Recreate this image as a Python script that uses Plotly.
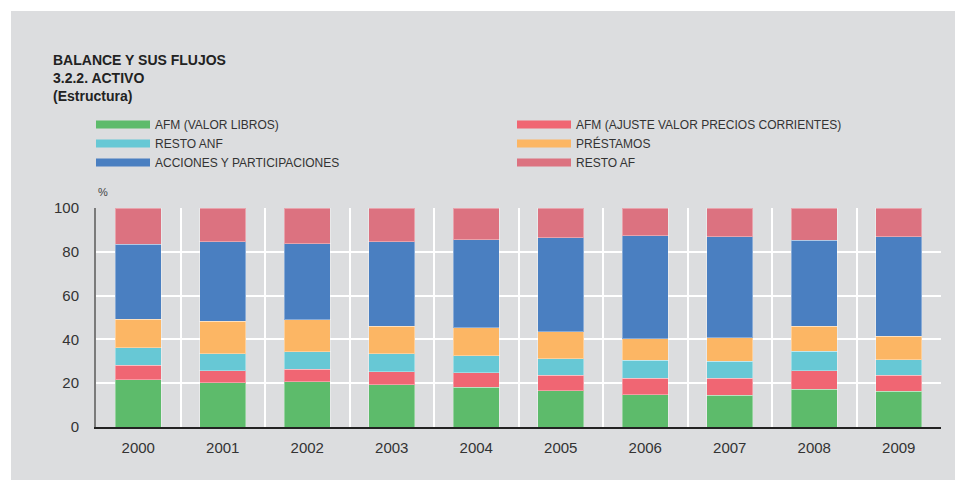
import plotly.graph_objects as go

years = ["2000", "2001", "2002", "2003", "2004", "2005", "2006", "2007", "2008", "2009"]
series_names = [
    "AFM (VALOR LIBROS)",
    "AFM (AJUSTE VALOR PRECIOS CORRIENTES)",
    "RESTO ANF",
    "PRÉSTAMOS",
    "ACCIONES Y PARTICIPACIONES",
    "RESTO AF",
]
afm_libros = [21.5, 20.2, 20.7, 19.3, 18.1, 16.6, 14.8, 14.6, 17.2, 16.4]
afm_ajuste = [6.8, 5.5, 5.6, 6.0, 6.7, 7.1, 7.4, 7.6, 8.5, 7.3]
resto_anf = [7.9, 7.8, 8.1, 8.2, 7.8, 7.5, 8.2, 7.9, 9.0, 7.0]
prestamos = [13.1, 14.9, 14.6, 12.6, 12.8, 12.2, 9.9, 10.7, 11.4, 10.7]
acciones = [34.1, 36.2, 34.7, 38.5, 40.1, 43.0, 47.1, 46.1, 39.1, 45.5]
resto_af = [16.6, 15.4, 16.3, 15.4, 14.5, 13.6, 12.6, 13.1, 14.8, 13.1]
y_ticks = [0, 20, 40, 60, 80, 100]

values = [afm_libros, afm_ajuste, resto_anf, prestamos, acciones, resto_af]
colors = ["#5dbb6b", "#f06673", "#67c8d5", "#fcb664", "#4a7fc1", "#dc7280"]

OFF = 8  # page body margin
W, H = 963 - OFF, 484 - OFF
ML, MR, MT, MB = 96 - OFF, 22, 208 - OFF, 57
PW, PH = W - ML - MR, H - MT - MB


def px_x(p):
    return (p - OFF - ML) / PW


def px_y(p):
    return (H - MB - (p - OFF)) / PH


xpos = list(range(len(years)))
fig = go.Figure()
for name, vals, col in zip(series_names, values, colors):
    fig.add_trace(go.Bar(
        x=xpos, y=vals, name=name, width=0.55,
        marker=dict(color=col, line=dict(color="rgba(255,255,255,0.35)", width=1)),
        showlegend=False,
    ))
# legend entries (wide swatches)
for name, col in zip(series_names, colors):
    fig.add_trace(go.Scatter(
        x=[None], y=[None], mode="lines", name=name,
        line=dict(color=col, width=8), showlegend=True,
    ))

fig.update_layout(
    width=W, height=H,
    margin=dict(l=ML, r=MR, t=MT, b=MB),
    barmode="stack",
    paper_bgcolor="white",
    plot_bgcolor="#dcdddf",
    font=dict(family="Liberation Sans, Arial, sans-serif", color="#333333"),
    legend=dict(
        orientation="h", x=px_x(91), y=px_y(110), xanchor="left", yanchor="top",
        entrywidth=352, entrywidthmode="pixels", itemwidth=54,
        traceorder="normal",
        font=dict(size=12, color="#333333"), bgcolor="rgba(0,0,0,0)",
        tracegroupgap=0,
    ),
    xaxis=dict(
        range=[-0.5, len(years) - 0.5],
        tickmode="array", tickvals=xpos, ticktext=years,
        showgrid=False, zeroline=False,
        showline=True, linecolor="#222222", linewidth=2,
        ticks="outside", ticklen=6, tickcolor="rgba(0,0,0,0)",
        tickfont=dict(size=15, color="#333333"),
        minor=dict(tickmode="array", tickvals=[i - 0.5 for i in range(len(years) + 1)],
                   showgrid=True, gridcolor="white", gridwidth=2, ticks=""),
        fixedrange=True,
    ),
    yaxis=dict(
        range=[0, 100], tickmode="array", tickvals=y_ticks,
        showgrid=True, gridcolor="white", gridwidth=2, zeroline=False,
        showline=True, linecolor="#7a7a7a", linewidth=2,
        ticks="outside", ticklen=12, tickcolor="rgba(0,0,0,0)",
        tickfont=dict(size=15, color="#333333"),
    ),
    shapes=[dict(
        type="rect", xref="paper", yref="paper", layer="below",
        x0=px_x(11), x1=px_x(963), y0=px_y(480), y1=px_y(11),
        fillcolor="#dcdddf", line=dict(width=0),
    )],
    annotations=[
        dict(text="<b>BALANCE Y SUS FLUJOS<br>3.2.2. ACTIVO<br>(Estructura)</b>",
             xref="paper", yref="paper", x=px_x(51), y=px_y(50),
             xanchor="left", yanchor="top", align="left", showarrow=False,
             font=dict(size=14, color="#222222")),
        dict(text="%", xref="paper", yref="paper", x=px_x(96), y=px_y(192),
             xanchor="left", yanchor="middle", showarrow=False,
             font=dict(size=11, color="#444444")),
    ],
)

fig.write_html("out.html")
